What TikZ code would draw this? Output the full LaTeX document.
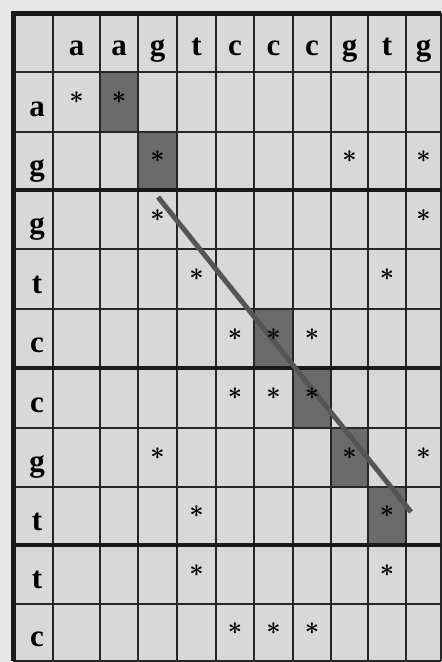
\documentclass[tikz,border=0pt]{standalone}
\usepackage{fontspec}
\setmainfont{Liberation Serif}
\usetikzlibrary{calc,positioning}
\definecolor{paper}{HTML}{E6E6E6}
\definecolor{cellbg}{HTML}{D8D8D8}
\definecolor{hitcell}{HTML}{6B6B6B}
\definecolor{trace}{HTML}{555555}

\begin{document}
\begin{tikzpicture}[x=1pt,y=-1pt,
  gridline/.style={line width=1.8pt,black!85},
  border/.style={line width=3.8pt,black!90},
  seqlabel/.style={anchor=base,inner sep=0pt,font=\fontsize{31}{31}\selectfont\bfseries},
  asterisk/.style={inner sep=0pt,font=\fontsize{36}{36}\selectfont\boldmath},
  hit/.style={fill=hitcell},
  diag/.style={trace,line width=5pt}]

  \fill[paper] (0,0) rectangle (442,662);
  \useasboundingbox (0,0) rectangle (442,662);

  % cell boundaries
  \foreach \x [count=\i from 0] in {13,53,100,138,177,216,254,293,331,368,406,441}
    \coordinate (X\i) at (\x,0);
  \foreach \y [count=\i from 0] in {13,72,132,190,249,309,368,428,487,545,604,661}
    \coordinate (Y\i) at (0,\y);
  \fill[cellbg] (X0|-Y0) rectangle (X11|-Y11);

  % matched cells on the path
  \foreach \r/\c in {1/2,2/3,5/6,6/7,7/8,8/9} {
    \pgfmathtruncatemacro\rr{\r+1}
    \pgfmathtruncatemacro\cc{\c+1}
    \fill[hit] (X\c|-Y\r) rectangle (X\cc|-Y\rr);
  }

  % grid
  \foreach \i in {1,...,11} {
    \draw[gridline] (X\i|-Y0) -- (X\i|-Y11);
    \draw[gridline] (X0|-Y\i) -- (X11|-Y\i);
  }
  \foreach \i in {3,6,9}
    \draw[border] (X0|-Y\i) -- (X11|-Y\i);
  \draw[border,line width=5pt] (X11|-Y0) -- (X0|-Y0) -- (X0|-Y11);

  % sequences
  \foreach \l [count=\c] in {a,a,g,t,c,c,c,g,t,g} {
    \pgfmathtruncatemacro\cc{\c+1}
    \node[seqlabel] (top\c) at ($(X\c|-Y0)!0.5!(X\cc|-Y1)+(0,13)$) {\l};
  }
  \foreach \l [count=\r] in {a,g,g,t,c,c,g,t,t,c} {
    \pgfmathtruncatemacro\rr{\r+1}
    \node[seqlabel] (side\r) at ($(X0|-Y\r)!0.5!(X1|-Y\rr)+(4,14)$) {\l};
  }

  % diagonal
  \coordinate (start) at (158,197);
  \coordinate (end) at (411,512);
  \draw[diag] (start) -- (end);

  % matches
  \foreach \r/\c in {1/1,1/2,2/3,2/8,2/10,3/3,3/10,4/4,4/9,5/5,5/6,5/7,
                     6/5,6/6,6/7,7/3,7/8,7/10,8/4,8/9,9/4,9/9,10/5,10/6,10/7} {
    \pgfmathtruncatemacro\rr{\r+1}
    \pgfmathtruncatemacro\cc{\c+1}
    \node[asterisk] (m-\r-\c) at ($(X\c|-Y\r)!0.5!(X\cc|-Y\rr)+(0,-4)$) {$\ast$};
  }
\end{tikzpicture}
\end{document}
